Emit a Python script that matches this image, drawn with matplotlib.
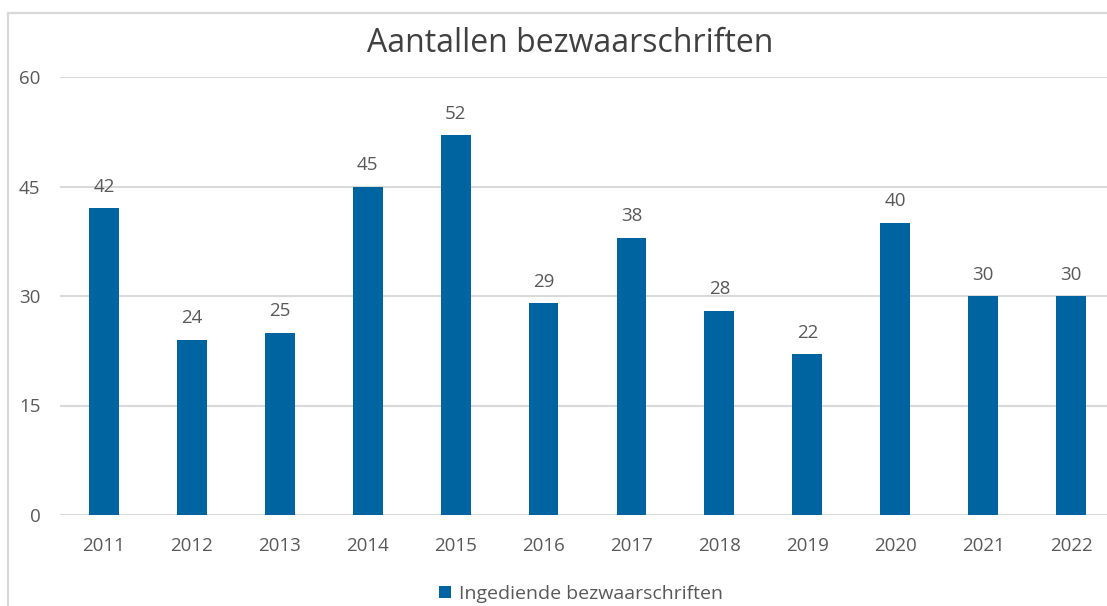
import numpy as np
import matplotlib
matplotlib.use("Agg")
import matplotlib.pyplot as plt
from matplotlib.patches import Rectangle

# data
jaren = ["2011", "2012", "2013", "2014", "2015", "2016",
         "2017", "2018", "2019", "2020", "2021", "2022"]
aantallen = [42, 24, 25, 45, 52, 29, 38, 28, 22, 40, 30, 30]
y_ticks = [0, 15, 30, 45, 60]

blauw = "#0064A0"
grijs_tekst = "#595959"
grijs_lijn = "#D9D9D9"

plt.rcParams["font.family"] = ["Open Sans", "DejaVu Sans"]

W, H = 1107, 606
fig = plt.figure(figsize=(W / 100, H / 100), dpi=100)

# buitenrand van de grafiek (loopt rechts en onder door)
fig.patches.append(Rectangle((8 / W, -0.1), 1.2, 1 - 13 / H + 0.1,
                             transform=fig.transFigure, fill=False,
                             edgecolor=grijs_lijn, linewidth=1.6))

ax = fig.add_axes([60 / W, (H - 515) / H, (1115 - 60) / W, (515 - 77) / H])
x = np.arange(len(jaren))
bars = ax.bar(x, aantallen, width=0.34, color=blauw, zorder=3,
              label="Ingediende bezwaarschriften")

for xi, v in zip(x, aantallen):
    ax.annotate(str(v), (xi, v), xytext=(0, 9), textcoords="offset points",
                ha="center", va="bottom", fontsize=13.5, color=grijs_tekst)

ax.set_xlim(-0.5, len(jaren) - 0.5)
ax.set_ylim(0, 60)
ax.set_yticks(y_ticks)
ax.set_xticks(x)
ax.set_xticklabels(jaren)
ax.tick_params(axis="both", length=0, labelsize=13.5, labelcolor=grijs_tekst)
ax.tick_params(axis="y", pad=14)
ax.tick_params(axis="x", pad=16)
ax.grid(axis="y", color=grijs_lijn, linewidth=1.5, zorder=0)
for s in ax.spines.values():
    s.set_visible(False)
ax.set_facecolor("none")

fig.text(570 / W, 1 - 44 / H, "Aantallen bezwaarschriften", ha="center",
         va="center", fontsize=23, color="#404040")

fig.legend(handles=[bars], loc="center", bbox_to_anchor=(581 / W, 1 - 594 / H),
           frameon=False, fontsize=14, labelcolor=grijs_tekst,
           handlelength=0.6, handleheight=0.6, handletextpad=0.4)

fig.savefig("out.png", dpi=100)
